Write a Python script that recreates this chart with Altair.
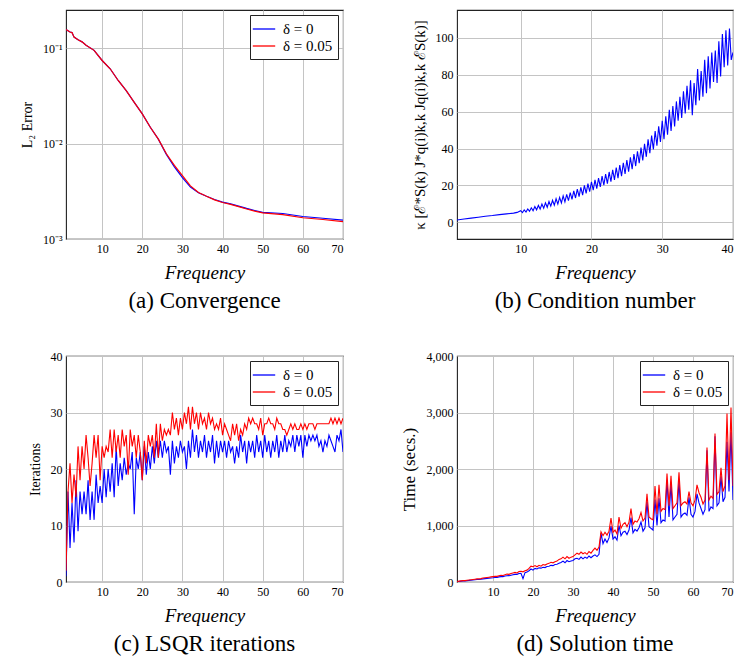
import altair as alt
import pandas as pd

SERIES = ["δ = 0", "δ = 0.05"]
BLUE = "#0000ff"
RED = "#ff0000"
FONT = "Liberation Serif"

# ---------------- (a) Convergence: L2 error (log) ----------------
conv_freq = [1, 2, 2.5, 3, 4, 5, 6, 8, 10, 12, 14, 16, 18, 20, 22, 24, 26, 28, 30,
             32, 34, 36, 38, 40, 42, 44, 46, 48, 50, 55, 60, 65, 70]
conv_blue = [0.156, 0.147, 0.145, 0.130, 0.122, 0.116, 0.107, 0.0945, 0.074, 0.0606,
             0.0457, 0.0358, 0.027, 0.0204, 0.0148, 0.0111, 0.0077, 0.0057, 0.0044,
             0.0035, 0.00305, 0.0028, 0.00259, 0.00243, 0.00233, 0.00221, 0.00209,
             0.00199, 0.0019, 0.00185, 0.00172, 0.00165, 0.00158]
conv_red = [0.156, 0.147, 0.145, 0.130, 0.122, 0.116, 0.107, 0.0945, 0.074, 0.0606,
            0.0457, 0.0358, 0.027, 0.0204, 0.0148, 0.0111, 0.0078, 0.0059, 0.0046,
            0.0036, 0.00307, 0.0028, 0.00257, 0.00241, 0.0023, 0.00218, 0.00206,
            0.00196, 0.00188, 0.0018, 0.00167, 0.0016, 0.00152]

# ---------------- (b) Condition number ----------------
cond_low_freq = [1, 2, 3, 4, 5, 6, 7, 8, 9, 9.5]
cond_low_val = [1.3, 1.8, 2.3, 2.8, 3.3, 3.7, 4.2, 4.6, 5.0, 5.4]
# zigzag: peaks at 10, 10.5, ... 39.5 ; troughs at 10.25, 10.75, ... 39.75
cond_peak = [6.3, 6.8, 7.3, 7.9, 8.6, 9.2, 9.9, 10.6, 11.3, 12.0,
             12.8, 13.5, 14.4, 15.2, 16.1, 17.0, 18.0, 19.0, 20.0, 21.0,
             22.0, 23.0, 24.0, 25.0, 26.2, 27.3, 28.5, 29.7, 31.0, 32.3,
             33.8, 35.2, 37.0, 38.5, 40.5, 42.5, 45.0, 47.0, 49.5, 52.0,
             55.0, 57.5, 61.0, 63.0, 65.5, 68.0, 71.0, 74.0, 77.0, 75.5,
             83.0, 82.0, 88.0, 90.0, 92.0, 93.0, 98.0, 102.0, 104.0, 105.0]
cond_trough = [5.3, 5.6, 6.0, 6.3, 6.8, 7.2, 7.7, 8.2, 8.8, 9.3,
               9.9, 10.5, 11.1, 11.8, 12.5, 13.2, 14.0, 14.8, 15.7, 16.6,
               17.5, 18.3, 19.2, 20.1, 21.0, 22.0, 23.0, 24.0, 25.0, 26.2,
               27.5, 28.8, 30.5, 32.0, 33.5, 35.5, 37.5, 39.5, 41.5, 43.5,
               45.0, 47.5, 49.5, 52.0, 55.0, 56.5, 59.0, 61.0, 58.0, 63.5,
               66.0, 68.0, 70.0, 72.5, 76.0, 75.5, 79.0, 84.0, 85.0, 88.0]
cond_end_freq = 40
cond_end_val = 92

# ---------------- (c) LSQR iterations (freq 1, 1.5, ..., 70) ----------------
iter_blue = [1, 16, 6, 14, 7, 18, 9, 16, 12, 16,
             12, 18, 11, 16, 11, 19, 14, 17, 14, 20,
             15, 20, 16, 21, 15, 24, 17, 21, 18, 22,
             19, 21, 20, 23, 12, 22, 20, 23, 18, 24,
             19, 23, 20, 24, 21, 25, 22, 25, 22, 25,
             23, 24, 19, 25, 21, 24, 22, 25, 23, 24,
             20, 25, 22, 27, 23, 26, 22, 25, 23, 26,
             22, 25, 23, 26, 21, 25, 22, 25, 23, 25,
             22, 25, 23, 24, 21, 24, 22, 26, 23, 25,
             21, 25, 23, 25, 22, 26, 23, 25, 22, 26,
             23, 25, 22, 25, 23, 26, 22, 25, 23, 26,
             23, 25, 24, 26, 23, 26, 24, 26, 22, 26,
             24, 26, 25, 26, 25, 26, 24, 25, 23, 25,
             24, 26, 25, 24, 23, 26, 25, 27, 23]
iter_red = [2, 16, 21, 14, 19, 15, 24, 18, 24, 20,
            26, 22, 17, 21, 26, 22, 26, 18, 24, 22,
            24, 23, 27, 22, 27, 23, 26, 22, 27, 24,
            26, 19, 27, 24, 26, 22, 26, 23, 18, 25,
            21, 26, 24, 26, 22, 28, 22, 28, 25, 27,
            26, 27, 26, 30, 27, 29, 26, 29, 27, 30,
            28, 31, 27, 31, 28, 30, 27, 30, 28, 29,
            27, 30, 28, 29, 27, 28, 27, 29, 26, 28,
            27, 26, 25, 28, 26, 28, 25, 27, 26, 28,
            27, 29, 28, 29, 28, 28, 27, 29, 26, 28,
            28, 29, 28, 28, 27, 29, 28, 28, 27, 27,
            26, 27, 28, 27, 28, 27, 27, 28, 27, 28,
            27, 28, 28, 28, 27, 28, 28, 28, 28, 28,
            28, 28, 29, 28, 29, 28, 29, 28, 29]

# ---------------- (d) Solution time (freq 1, 1.5, ..., 70) ----------------
time_blue = [5, 10, 15, 18, 20, 25, 28, 32, 35, 40,
             45, 45, 50, 55, 60, 62, 68, 72, 75, 80,
             82, 90, 95, 95, 105, 110, 112, 120, 128, 135,
             135, 150, 155, 60, 165, 175, 200, 230, 210, 240,
             230, 250, 245, 260, 255, 275, 280, 295, 290, 310,
             315, 330, 345, 370, 340, 380, 360, 370, 380, 410,
             420, 400, 440, 410, 440, 420, 460, 430, 460, 480,
             450, 490, 860, 680, 760, 700, 780, 990, 760, 800,
             740, 1000, 820, 880, 900, 840, 920, 1140, 870, 930,
             900, 960, 1060, 900, 960, 1420, 980, 950, 920, 1460,
             1000, 1480, 1050, 1100, 1080, 1800, 1150, 1730, 1100, 1150,
             1200, 1780, 1150, 1200, 1220, 1180, 1500, 1200, 1150, 1250,
             1560, 1400, 1300, 1200, 1280, 2330, 1250, 1330, 1300, 2580,
             1350, 1400, 1870, 1420, 1500, 2480, 1600, 2650, 1450]
time_red = [10, 15, 20, 25, 25, 30, 35, 40, 45, 50,
            55, 55, 60, 70, 75, 80, 85, 90, 95, 100,
            100, 110, 120, 115, 130, 140, 135, 150, 160, 170,
            160, 185, 190, 180, 200, 210, 240, 280, 270, 290,
            270, 295, 280, 310, 300, 320, 330, 350, 340, 360,
            370, 400, 410, 440, 410, 450, 420, 440, 450, 480,
            510, 490, 530, 500, 520, 490, 540, 510, 560, 600,
            560, 620, 890, 820, 880, 830, 900, 1130, 880, 920,
            850, 1150, 950, 1020, 1050, 980, 1060, 1300, 1020, 1080,
            1060, 1120, 1230, 1080, 1130, 1560, 1150, 1120, 1100, 1700,
            1200, 1720, 1250, 1300, 1280, 1920, 1350, 1880, 1300, 1350,
            1400, 1940, 1350, 1400, 1420, 1380, 1600, 1400, 1350, 1450,
            1720, 1580, 1500, 1380, 1450, 2380, 1450, 1520, 1480, 2630,
            1550, 1600, 2020, 1600, 1700, 2980, 1800, 3090, 1700]

FREQ_TICKS = [10, 20, 30, 40, 50, 60, 70]


def two_series(freqs_a, vals_a, freqs_b, vals_b):
    return pd.DataFrame({
        "freq": list(freqs_a) + list(freqs_b),
        "val": list(vals_a) + list(vals_b),
        "series": [SERIES[0]] * len(vals_a) + [SERIES[1]] * len(vals_b),
    })


def half_grid(vals):
    return [1 + 0.5 * i for i in range(len(vals))]


AXIS_STYLE = dict(labelFont=FONT, labelFontSize=12, labelColor="black", labelPadding=4,
                  labelFontWeight="normal", titleFont=FONT, titleFontWeight="normal",
                  titleColor="black", grid=True, gridColor="#c4c4c4", gridWidth=1,
                  domain=False, ticks=False)


def x_enc(maxf, ticks):
    return alt.X("freq:Q",
                 scale=alt.Scale(domain=[1, maxf], nice=False, zero=False),
                 axis=alt.Axis(values=ticks, title="Frequency", titleFontStyle="italic",
                               titleFontSize=19, titlePadding=9, **AXIS_STYLE))


def y_axis(values, title, size, **kw):
    return alt.Axis(values=values, title=title, titleFontSize=size, titlePadding=8,
                    **AXIS_STYLE, **kw)


def legend():
    return alt.Legend(title=None, orient="top-right", offset=5, padding=5,
                      strokeColor="#222222", fillColor="white", cornerRadius=0,
                      symbolType="M-1.4,0H1.4", symbolSize=256, symbolStrokeWidth=1.3,
                      labelFont=FONT, labelFontSize=15, labelFontWeight="normal",
                      labelColor="black", labelOffset=10, rowPadding=0,
                      labelExpr="datum.label == 'δ = 0' ? '\u2002\u2002δ = 0' : datum.label")


def color_enc():
    return alt.Color("series:N", scale=alt.Scale(domain=SERIES, range=[BLUE, RED]),
                     legend=legend())


def caption(text):
    return alt.TitleParams(text=text, orient="bottom", font=FONT, fontSize=23,
                           fontWeight="normal", color="black", offset=8)


# (a)
df_a = two_series(conv_freq, conv_blue, conv_freq, conv_red)
chart_a = alt.Chart(df_a).mark_line(strokeWidth=1.2, clip=True).encode(
    x=x_enc(70, FREQ_TICKS),
    y=alt.Y("val:Q",
            scale=alt.Scale(type="log", domain=[0.001, 0.25], nice=False),
            axis=y_axis([0.001, 0.01, 0.1], "L₂ Error", 14,
                        labelExpr="datum.value > 0.05 ? '10⁻¹' : (datum.value > 0.005 ? '10⁻²' : '10⁻³')")),
    color=color_enc(),
).properties(width=277, height=229, title=caption("(a) Convergence"))

# (b)
cond_freq = list(cond_low_freq)
cond_val = list(cond_low_val)
for k in range(len(cond_peak)):
    cond_freq += [10 + 0.5 * k, 10.25 + 0.5 * k]
    cond_val += [cond_peak[k], cond_trough[k]]
cond_freq.append(cond_end_freq)
cond_val.append(cond_end_val)
df_b = pd.DataFrame({"freq": cond_freq, "val": cond_val})
chart_b = alt.Chart(df_b).mark_line(strokeWidth=1.1, clip=True, color=BLUE).encode(
    x=x_enc(40, [10, 20, 30, 40]),
    y=alt.Y("val:Q", scale=alt.Scale(domain=[-9, 115], nice=False, zero=False),
            axis=y_axis([0, 20, 40, 60, 80, 100],
                        "κ [ℰ*S(k) J*q(i)k,k Jq(i)k,k ℰS(k)]", 15)),
).properties(width=276, height=229, title=caption("(b) Condition number"))

# (c)
df_c = two_series(half_grid(iter_blue), iter_blue, half_grid(iter_red), iter_red)
chart_c = alt.Chart(df_c).mark_line(strokeWidth=1.1, clip=True).encode(
    x=x_enc(70, FREQ_TICKS),
    y=alt.Y("val:Q", scale=alt.Scale(domain=[0, 40], nice=False),
            axis=y_axis([0, 10, 20, 30, 40], "Iterations", 14)),
    color=color_enc(),
).properties(width=277, height=226, title=caption("(c) LSQR iterations"))

# (d)
df_d = two_series(half_grid(time_blue), time_blue, half_grid(time_red), time_red)
chart_d = alt.Chart(df_d).mark_line(strokeWidth=1.1, clip=True).encode(
    x=x_enc(70, FREQ_TICKS),
    y=alt.Y("val:Q", scale=alt.Scale(domain=[0, 4000], nice=False),
            axis=y_axis([0, 1000, 2000, 3000, 4000], "Time (secs.)", 17,
                        format=",.0f")),
    color=color_enc(),
).properties(width=276, height=226, title=caption("(d) Solution time"))

chart = alt.concat(chart_a, chart_b, chart_c, chart_d, columns=2,
                   spacing={"row": 35, "column": 55}).properties(
    padding={"left": 11, "top": 1, "right": 0, "bottom": 0}
).resolve_scale(color="independent").configure(
    font=FONT,
).configure_view(
    stroke="#222222", strokeWidth=1.1
).configure_title(font=FONT, fontWeight="normal")

chart.save("out.html", embed_options={"renderer": "svg", "actions": False})
